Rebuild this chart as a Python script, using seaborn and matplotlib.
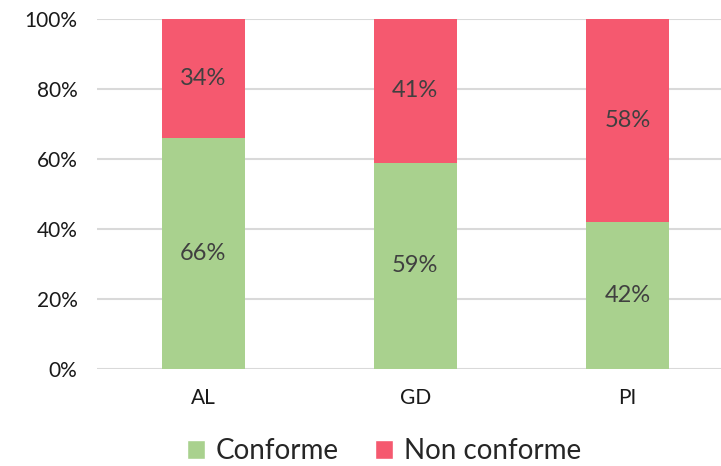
import numpy as np
import pandas as pd
import matplotlib
matplotlib.use("Agg")
import matplotlib.pyplot as plt
import seaborn as sns
from matplotlib.patches import Patch

# data
categories = ["AL", "GD", "PI"]
conforme = [66, 59, 42]
non_conforme = [34, 41, 58]

green = "#A9D18E"
red = "#F5596F"
text_col = "#404040"

sns.set_theme(style="white")
plt.rcParams["font.family"] = ["Lato", "DejaVu Sans"]

df = pd.DataFrame({"cat": categories, "conforme": conforme, "non": non_conforme})
df["total"] = df["conforme"] + df["non"]

fig = plt.figure(figsize=(7.21, 4.66), dpi=100)
ax = fig.add_axes([97 / 721, 1 - 369 / 466, (721 - 97) / 721, 350 / 466])

# empilé : total (rouge) d'abord, puis conforme (vert) par-dessus
sns.barplot(data=df, x="cat", y="total", color=red, width=0.39, saturation=1, ax=ax,
            zorder=2, linewidth=0)
sns.barplot(data=df, x="cat", y="conforme", color=green, width=0.39, saturation=1, ax=ax,
            zorder=3, linewidth=0)

for i, row in df.iterrows():
    ax.text(i, row["conforme"] / 2, f"{row['conforme']}%", ha="center", va="center",
            fontsize=17, color=text_col, zorder=4)
    ax.text(i, row["conforme"] + row["non"] / 2, f"{row['non']}%", ha="center", va="center",
            fontsize=17, color=text_col, zorder=4)

ax.set_ylim(0, 100)
ax.set_xlim(-0.5, 2.44)
ax.set_yticks(np.arange(0, 101, 20))
ax.set_yticklabels([f"{v}%" for v in range(0, 101, 20)])
ax.yaxis.grid(True, color="#D9D9D9", linewidth=1.5, zorder=0)
ax.set_axisbelow(True)
ax.set_xlabel("")
ax.set_ylabel("")
for s in ax.spines.values():
    s.set_visible(False)
ax.tick_params(axis="both", length=0, labelsize=15, labelcolor="#1a1a1a")
ax.tick_params(axis="y", pad=14)
ax.tick_params(axis="x", pad=14)

handles = [Patch(facecolor=green, label="Conforme"), Patch(facecolor=red, label="Non conforme")]
fig.legend(handles=handles, loc="center", bbox_to_anchor=(384 / 721, 1 - 451 / 466), ncol=2,
           frameon=False, fontsize=20, handlelength=0.65, handleheight=0.65, handletextpad=0.4,
           columnspacing=1.3, borderpad=0.2)

fig.savefig("out.png", dpi=100)
